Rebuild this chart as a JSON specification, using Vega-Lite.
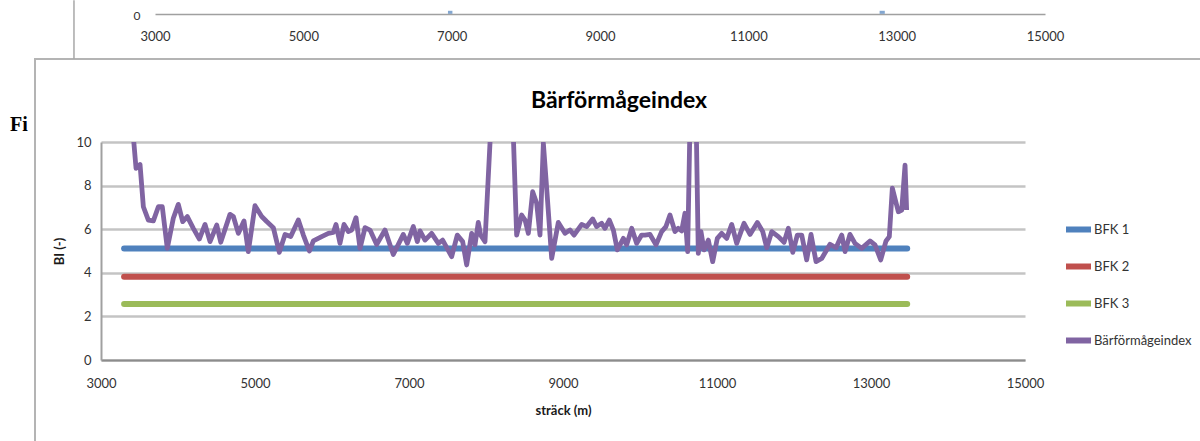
{
  "$schema": "https://vega.github.io/schema/vega-lite/v6.json",
  "width": 924,
  "height": 218,
  "autosize": {"type": "none"},
  "padding": {"left": 101, "top": 142, "right": 175, "bottom": 81},
  "background": "white",
  "config": {
    "font": "Lato",
    "view": {"stroke": null}
  },
  "title": {
    "text": "Bärförmågeindex",
    "frame": "group",
    "anchor": "middle",
    "dx": 56,
    "offset": -113,
    "fontSize": 23,
    "fontWeight": "bold",
    "color": "#000000"
  },
  "datasets": {
    "fig": [{"x": 1818, "y": 10.5, "label": "Figur"}],
    "frame": [{"x": 2143, "x2": 18500, "y": -6, "y2": 13.81}],
    "vline": [{"x": 2649, "y": 13.81, "y2": 16.5}],
    "bfk": [
      {"series": "BFK 1", "x": 3300, "y": 5.12},
      {"series": "BFK 1", "x": 13470, "y": 5.12},
      {"series": "BFK 2", "x": 3300, "y": 3.82},
      {"series": "BFK 2", "x": 13470, "y": 3.82},
      {"series": "BFK 3", "x": 3300, "y": 2.57},
      {"series": "BFK 3", "x": 13470, "y": 2.57}
    ],
    "bi": [
      {"series": "Bärförmågeindex", "x": 3390, "y": 11.5},
      {"series": "Bärförmågeindex", "x": 3455, "y": 8.79},
      {"series": "Bärförmågeindex", "x": 3507, "y": 8.97},
      {"series": "Bärförmågeindex", "x": 3550, "y": 7.03},
      {"series": "Bärförmågeindex", "x": 3615, "y": 6.42},
      {"series": "Bärförmågeindex", "x": 3680, "y": 6.38},
      {"series": "Bärförmågeindex", "x": 3745, "y": 7.03},
      {"series": "Bärförmågeindex", "x": 3796, "y": 7.03},
      {"series": "Bärförmågeindex", "x": 3861, "y": 5.12},
      {"series": "Bärförmågeindex", "x": 3939, "y": 6.5},
      {"series": "Bärförmågeindex", "x": 4004, "y": 7.14},
      {"series": "Bärförmågeindex", "x": 4061, "y": 6.35},
      {"series": "Bärförmågeindex", "x": 4121, "y": 6.58},
      {"series": "Bärförmågeindex", "x": 4199, "y": 6.04},
      {"series": "Bärförmågeindex", "x": 4277, "y": 5.55},
      {"series": "Bärförmågeindex", "x": 4351, "y": 6.22},
      {"series": "Bärförmågeindex", "x": 4416, "y": 5.43},
      {"series": "Bärförmågeindex", "x": 4503, "y": 6.19},
      {"series": "Bärförmågeindex", "x": 4555, "y": 5.4},
      {"series": "Bärförmågeindex", "x": 4675, "y": 6.68},
      {"series": "Bärförmågeindex", "x": 4719, "y": 6.58},
      {"series": "Bärförmågeindex", "x": 4784, "y": 5.81},
      {"series": "Bärförmågeindex", "x": 4857, "y": 6.38},
      {"series": "Bärförmågeindex", "x": 4913, "y": 4.97},
      {"series": "Bärförmågeindex", "x": 5000, "y": 7.08},
      {"series": "Bärförmågeindex", "x": 5087, "y": 6.58},
      {"series": "Bärförmågeindex", "x": 5152, "y": 6.35},
      {"series": "Bärförmågeindex", "x": 5238, "y": 6.07},
      {"series": "Bärförmågeindex", "x": 5316, "y": 4.94},
      {"series": "Bärförmågeindex", "x": 5390, "y": 5.76},
      {"series": "Bärförmågeindex", "x": 5464, "y": 5.66},
      {"series": "Bärförmågeindex", "x": 5563, "y": 6.42},
      {"series": "Bärförmågeindex", "x": 5628, "y": 5.73},
      {"series": "Bärförmågeindex", "x": 5706, "y": 5.0},
      {"series": "Bärförmågeindex", "x": 5758, "y": 5.46},
      {"series": "Bärförmågeindex", "x": 5866, "y": 5.66},
      {"series": "Bärförmågeindex", "x": 5953, "y": 5.81},
      {"series": "Bärförmågeindex", "x": 6017, "y": 5.85},
      {"series": "Bärförmågeindex", "x": 6052, "y": 6.22},
      {"series": "Bärförmågeindex", "x": 6104, "y": 5.35},
      {"series": "Bärförmågeindex", "x": 6156, "y": 6.22},
      {"series": "Bärförmågeindex", "x": 6212, "y": 5.89},
      {"series": "Bärförmågeindex", "x": 6256, "y": 5.96},
      {"series": "Bärförmågeindex", "x": 6312, "y": 6.53},
      {"series": "Bärförmågeindex", "x": 6364, "y": 5.12},
      {"series": "Bärförmågeindex", "x": 6429, "y": 6.07},
      {"series": "Bärförmågeindex", "x": 6494, "y": 5.96},
      {"series": "Bärförmågeindex", "x": 6580, "y": 5.3},
      {"series": "Bärförmågeindex", "x": 6688, "y": 5.96},
      {"series": "Bärförmågeindex", "x": 6796, "y": 4.84},
      {"series": "Bärförmågeindex", "x": 6926, "y": 5.76},
      {"series": "Bärförmågeindex", "x": 6978, "y": 5.35},
      {"series": "Bärförmågeindex", "x": 7056, "y": 6.12},
      {"series": "Bärförmågeindex", "x": 7108, "y": 5.43},
      {"series": "Bärförmågeindex", "x": 7143, "y": 5.92},
      {"series": "Bärförmågeindex", "x": 7208, "y": 5.5},
      {"series": "Bärförmågeindex", "x": 7294, "y": 5.81},
      {"series": "Bärförmågeindex", "x": 7381, "y": 5.35},
      {"series": "Bärförmågeindex", "x": 7437, "y": 5.5},
      {"series": "Bärförmågeindex", "x": 7554, "y": 4.74},
      {"series": "Bärförmågeindex", "x": 7627, "y": 5.73},
      {"series": "Bärförmågeindex", "x": 7697, "y": 5.43},
      {"series": "Bärförmågeindex", "x": 7749, "y": 4.36},
      {"series": "Bärförmågeindex", "x": 7814, "y": 5.81},
      {"series": "Bärförmågeindex", "x": 7857, "y": 5.28},
      {"series": "Bärförmågeindex", "x": 7900, "y": 6.31},
      {"series": "Bärförmågeindex", "x": 7931, "y": 5.73},
      {"series": "Bärförmågeindex", "x": 7987, "y": 5.43},
      {"series": "Bärförmågeindex", "x": 8110, "y": 14},
      {"series": "Bärförmågeindex", "x": 8320, "y": 14},
      {"series": "Bärförmågeindex", "x": 8398, "y": 5.73},
      {"series": "Bärförmågeindex", "x": 8463, "y": 6.65},
      {"series": "Bärförmågeindex", "x": 8507, "y": 6.42},
      {"series": "Bärförmågeindex", "x": 8550, "y": 5.81},
      {"series": "Bärförmågeindex", "x": 8606, "y": 7.72},
      {"series": "Bärförmågeindex", "x": 8658, "y": 7.19},
      {"series": "Bärförmågeindex", "x": 8701, "y": 5.73},
      {"series": "Bärförmågeindex", "x": 8745, "y": 9.94},
      {"series": "Bärförmågeindex", "x": 8788, "y": 7.88},
      {"series": "Bärförmågeindex", "x": 8853, "y": 4.66},
      {"series": "Bärförmågeindex", "x": 8939, "y": 6.31},
      {"series": "Bärförmågeindex", "x": 9026, "y": 5.81},
      {"series": "Bärförmågeindex", "x": 9091, "y": 5.96},
      {"series": "Bärförmågeindex", "x": 9143, "y": 5.73},
      {"series": "Bärförmågeindex", "x": 9243, "y": 6.22},
      {"series": "Bärförmågeindex", "x": 9308, "y": 6.12},
      {"series": "Bärförmågeindex", "x": 9385, "y": 6.47},
      {"series": "Bärförmågeindex", "x": 9437, "y": 6.12},
      {"series": "Bärförmågeindex", "x": 9502, "y": 6.27},
      {"series": "Bärförmågeindex", "x": 9545, "y": 6.04},
      {"series": "Bärförmågeindex", "x": 9602, "y": 6.42},
      {"series": "Bärförmågeindex", "x": 9654, "y": 5.96},
      {"series": "Bärförmågeindex", "x": 9706, "y": 5.05},
      {"series": "Bärförmågeindex", "x": 9784, "y": 5.58},
      {"series": "Bärförmågeindex", "x": 9827, "y": 5.28},
      {"series": "Bärförmågeindex", "x": 9892, "y": 6.04},
      {"series": "Bärförmågeindex", "x": 9957, "y": 5.35},
      {"series": "Bärförmågeindex", "x": 10021, "y": 5.73},
      {"series": "Bärförmågeindex", "x": 10065, "y": 5.73},
      {"series": "Bärförmågeindex", "x": 10130, "y": 5.76},
      {"series": "Bärförmågeindex", "x": 10208, "y": 5.28},
      {"series": "Bärförmågeindex", "x": 10281, "y": 5.89},
      {"series": "Bärförmågeindex", "x": 10337, "y": 6.12},
      {"series": "Bärförmågeindex", "x": 10389, "y": 6.65},
      {"series": "Bärförmågeindex", "x": 10454, "y": 5.89},
      {"series": "Bärförmågeindex", "x": 10497, "y": 6.04},
      {"series": "Bärförmågeindex", "x": 10541, "y": 5.92},
      {"series": "Bärförmågeindex", "x": 10584, "y": 6.73},
      {"series": "Bärförmågeindex", "x": 10619, "y": 4.97},
      {"series": "Bärförmågeindex", "x": 10660, "y": 13},
      {"series": "Bärförmågeindex", "x": 10720, "y": 13},
      {"series": "Bärförmågeindex", "x": 10757, "y": 4.89},
      {"series": "Bärförmågeindex", "x": 10792, "y": 5.89},
      {"series": "Bärförmågeindex", "x": 10831, "y": 5.05},
      {"series": "Bärförmågeindex", "x": 10887, "y": 5.5},
      {"series": "Bärförmågeindex", "x": 10944, "y": 4.51},
      {"series": "Bärförmågeindex", "x": 11004, "y": 5.58},
      {"series": "Bärförmågeindex", "x": 11061, "y": 5.81},
      {"series": "Bärförmågeindex", "x": 11126, "y": 5.58},
      {"series": "Bärförmågeindex", "x": 11191, "y": 6.22},
      {"series": "Bärförmågeindex", "x": 11256, "y": 5.35},
      {"series": "Bärförmågeindex", "x": 11351, "y": 6.27},
      {"series": "Bärförmågeindex", "x": 11429, "y": 5.76},
      {"series": "Bärförmågeindex", "x": 11524, "y": 6.31},
      {"series": "Bärförmågeindex", "x": 11594, "y": 5.89},
      {"series": "Bärförmågeindex", "x": 11646, "y": 5.15},
      {"series": "Bärförmågeindex", "x": 11711, "y": 5.89},
      {"series": "Bärförmågeindex", "x": 11797, "y": 5.66},
      {"series": "Bärförmågeindex", "x": 11871, "y": 5.4},
      {"series": "Bärförmågeindex", "x": 11927, "y": 6.04},
      {"series": "Bärförmågeindex", "x": 11984, "y": 4.94},
      {"series": "Bärförmågeindex", "x": 12043, "y": 5.73},
      {"series": "Bärförmågeindex", "x": 12100, "y": 5.73},
      {"series": "Bärförmågeindex", "x": 12165, "y": 4.59},
      {"series": "Bärförmågeindex", "x": 12221, "y": 5.76},
      {"series": "Bärförmågeindex", "x": 12286, "y": 4.51},
      {"series": "Bärförmågeindex", "x": 12360, "y": 4.66},
      {"series": "Bärförmågeindex", "x": 12468, "y": 5.31},
      {"series": "Bärförmågeindex", "x": 12546, "y": 5.15},
      {"series": "Bärförmågeindex", "x": 12620, "y": 5.73},
      {"series": "Bärförmågeindex", "x": 12663, "y": 4.97},
      {"series": "Bärförmågeindex", "x": 12727, "y": 5.76},
      {"series": "Bärförmågeindex", "x": 12792, "y": 5.35},
      {"series": "Bärförmågeindex", "x": 12879, "y": 5.12},
      {"series": "Bärförmågeindex", "x": 12987, "y": 5.46},
      {"series": "Bärförmågeindex", "x": 13052, "y": 5.28},
      {"series": "Bärförmågeindex", "x": 13126, "y": 4.59},
      {"series": "Bärförmågeindex", "x": 13195, "y": 5.46},
      {"series": "Bärförmågeindex", "x": 13238, "y": 5.66},
      {"series": "Bärförmågeindex", "x": 13277, "y": 7.88},
      {"series": "Bärförmågeindex", "x": 13355, "y": 6.8},
      {"series": "Bärförmågeindex", "x": 13399, "y": 6.88},
      {"series": "Bärförmågeindex", "x": 13442, "y": 8.94},
      {"series": "Bärförmågeindex", "x": 13463, "y": 6.88}
    ],
    "topline": [
      {"g": "a", "x": 6950, "y": 15.95},
      {"g": "a", "x": 7010, "y": 15.95},
      {"g": "b", "x": 12770, "y": 15.95},
      {"g": "b", "x": 12840, "y": 15.95}
    ],
    "toplabel": [{"x": 2757, "y": 15.78, "label": "0"}]
  },
  "layer": [
    {
      "encoding": {
        "x": {
          "field": "x",
          "type": "quantitative",
          "scale": {"domain": [3000, 15000], "nice": false},
          "axis": {
            "values": [3000, 5000, 7000, 9000, 11000, 13000, 15000],
            "format": "d",
            "title": "sträck (m)",
            "titleFontSize": 13,
            "titleFontWeight": "bold",
            "titleColor": "#1a1a1a",
            "titlePadding": 14,
            "labelFontSize": 13,
            "labelColor": "#333333",
            "labelPadding": 17,
            "labelFlush": false,
            "labelOverlap": false,
            "ticks": false,
            "tickSize": 0,
            "grid": false,
            "domainColor": "#8c8c8c",
            "domainWidth": 2
          }
        },
        "y": {
          "field": "y",
          "type": "quantitative",
          "scale": {"domain": [0, 10], "nice": false},
          "axis": {
            "values": [0, 2, 4, 6, 8, 10],
            "title": "BI (-)",
            "titleFontSize": 13,
            "titleFontWeight": "bold",
            "titleColor": "#1a1a1a",
            "titlePadding": 9,
            "labelFontSize": 13,
            "labelColor": "#333333",
            "labelPadding": 10,
            "ticks": false,
            "tickSize": 0,
            "grid": true,
            "gridColor": "#c4c4c4",
            "gridWidth": 2.5,
            "domainColor": "#a0a0a0",
            "domainWidth": 2
          }
        }
      },
      "layer": [
        {
          "data": {"name": "fig"},
          "mark": {
            "type": "text",
            "align": "left",
            "baseline": "alphabetic",
            "font": "Liberation Serif",
            "fontWeight": "bold",
            "fontSize": 20,
            "color": "#000000",
            "limit": 26,
            "ellipsis": " "
          },
          "encoding": {"text": {"field": "label"}}
        },
        {
          "data": {"name": "frame"},
          "mark": {"type": "rect", "fill": "transparent", "stroke": "#b4b4b4", "strokeWidth": 2},
          "encoding": {"x2": {"field": "x2"}, "y2": {"field": "y2"}}
        },
        {
          "data": {"name": "vline"},
          "mark": {"type": "rule", "color": "#a8a8a8", "strokeWidth": 1.5},
          "encoding": {"y2": {"field": "y2"}}
        },
        {
          "data": {"name": "bfk"},
          "mark": {"type": "line", "strokeWidth": 6, "strokeCap": "round"},
          "encoding": {
            "color": {
              "field": "series",
              "type": "nominal",
              "scale": {
                "domain": ["BFK 1", "BFK 2", "BFK 3", "Bärförmågeindex"],
                "range": ["#4f81bd", "#c0504d", "#9bbb59", "#8064a2"]
              },
              "legend": {
                "title": null,
                "orient": "none",
                "legendX": 962,
                "legendY": 72,
                "symbolType": "stroke",
                "symbolSize": 625,
                "symbolStrokeWidth": 6,
                "labelFontSize": 13,
                "labelColor": "#333333",
                "labelOffset": 0,
                "rowPadding": 9
              }
            }
          }
        },
        {
          "data": {"name": "bi"},
          "mark": {"type": "line", "strokeWidth": 4.8, "strokeJoin": "round", "clip": true},
          "encoding": {
            "color": {"field": "series", "type": "nominal"}
          }
        }
      ]
    },
    {
      "encoding": {
        "x": {
          "field": "x",
          "type": "quantitative",
          "scale": {"domain": [3000, 15000], "range": [54, 944], "nice": false},
          "axis": {
            "orient": "bottom",
            "offset": -346,
            "values": [3000, 5000, 7000, 9000, 11000, 13000, 15000],
            "format": "d",
            "title": null,
            "labelFontSize": 13,
            "labelColor": "#333333",
            "labelPadding": 16,
            "labelFlush": false,
            "labelOverlap": false,
            "ticks": false,
            "tickSize": 0,
            "grid": false,
            "domainColor": "#a0a0a0",
            "domainWidth": 1.5
          }
        },
        "y": {
          "field": "y",
          "type": "quantitative",
          "scale": {"domain": [0, 10], "nice": false},
          "axis": {
            "values": [0, 2, 4, 6, 8, 10],
            "title": "BI (-)",
            "titleFontSize": 13,
            "titleFontWeight": "bold",
            "titleColor": "#1a1a1a",
            "titlePadding": 9,
            "labelFontSize": 13,
            "labelColor": "#333333",
            "labelPadding": 10,
            "ticks": false,
            "tickSize": 0,
            "grid": true,
            "gridColor": "#c4c4c4",
            "gridWidth": 2.5,
            "domainColor": "#a0a0a0",
            "domainWidth": 2
          }
        }
      },
      "layer": [
        {
          "data": {"name": "topline"},
          "mark": {"type": "line", "strokeWidth": 3, "color": "#4f81bd", "opacity": 0.7},
          "encoding": {"detail": {"field": "g"}}
        },
        {
          "data": {"name": "toplabel"},
          "mark": {"type": "text", "fontSize": 12, "color": "#333333", "align": "center", "baseline": "middle"},
          "encoding": {"text": {"field": "label"}}
        }
      ]
    }
  ],
  "resolve": {"scale": {"x": "independent"}, "axis": {"x": "independent"}}
}
